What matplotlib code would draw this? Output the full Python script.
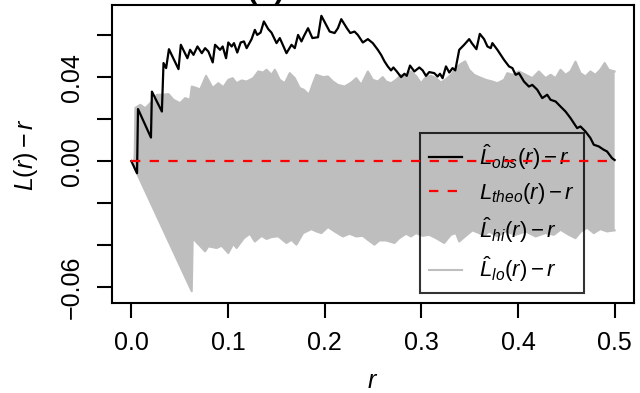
import numpy as np
import matplotlib.pyplot as plt

plt.rcParams['font.family'] = 'Liberation Sans'
plt.rcParams['mathtext.fontset'] = 'custom'
plt.rcParams['mathtext.rm'] = 'Liberation Sans'
plt.rcParams['mathtext.it'] = 'Liberation Sans:italic'
plt.rcParams['mathtext.bf'] = 'Liberation Sans:bold'

# observed L(r)-r
r_obs = [0.0, 0.0059, 0.0069, 0.0203, 0.0213, 0.0316, 0.0333, 0.036, 0.0389, 0.0488,
         0.0512, 0.058, 0.0608, 0.0643, 0.0684, 0.0729, 0.0763, 0.0797, 0.0842, 0.0866,
         0.0918, 0.0945, 0.098, 0.1003, 0.1038, 0.1062, 0.1096, 0.1131, 0.1165, 0.1193,
         0.1244, 0.1278, 0.1302, 0.1337, 0.1371, 0.1416, 0.145, 0.1502, 0.1536, 0.1605,
         0.1657, 0.1691, 0.1725, 0.176, 0.1784, 0.1828, 0.1873, 0.1931, 0.1966, 0.2052,
         0.2103, 0.2137, 0.2172, 0.223, 0.2265, 0.2309, 0.2343, 0.2395, 0.2447, 0.2498,
         0.255, 0.2584, 0.2619, 0.2653, 0.2687, 0.2711, 0.2746, 0.2791, 0.2825, 0.2849,
         0.2883, 0.2928, 0.2979, 0.3014, 0.3048, 0.3082, 0.3134, 0.3168, 0.3193, 0.322,
         0.3255, 0.3289, 0.3323, 0.3351, 0.3392, 0.3443, 0.3495, 0.3522, 0.357, 0.3605,
         0.3649, 0.3684, 0.3718, 0.3735, 0.3787, 0.3856, 0.3907, 0.3942, 0.3976, 0.401,
         0.4062, 0.4113, 0.4148, 0.4199, 0.4251, 0.4302, 0.4337, 0.4389, 0.444, 0.4492,
         0.4543, 0.4612, 0.4646, 0.4698, 0.4749, 0.4784, 0.4835, 0.4887, 0.4921, 0.4973, 0.5]
obs = [0.0, -0.0058, 0.0248, 0.0112, 0.0331, 0.0236, 0.0467, 0.0443, 0.0533, 0.0438,
       0.0554, 0.049, 0.053, 0.0506, 0.0546, 0.0514, 0.0538, 0.0522, 0.047, 0.0554,
       0.053, 0.0546, 0.049, 0.0565, 0.0546, 0.0562, 0.0517, 0.0565, 0.057, 0.0538,
       0.0581, 0.0625, 0.0601, 0.0612, 0.0665, 0.0629, 0.0612, 0.0562, 0.0586, 0.0514,
       0.0554, 0.0538, 0.0601, 0.057, 0.0594, 0.0633, 0.0586, 0.059, 0.0692, 0.0617,
       0.061, 0.0633, 0.0676, 0.0633, 0.061, 0.0617, 0.0601, 0.0565, 0.0581, 0.0562,
       0.053, 0.0506, 0.0475, 0.0451, 0.0432, 0.0446, 0.0427, 0.04, 0.0416, 0.0406,
       0.0455, 0.0427, 0.0446, 0.0432, 0.0406, 0.0424, 0.0419, 0.0403, 0.0416, 0.0395,
       0.0451, 0.0422, 0.0443, 0.0432, 0.053, 0.0554, 0.0581, 0.0562, 0.0533, 0.0606,
       0.0581, 0.0546, 0.0538, 0.0562, 0.053, 0.0482, 0.0451, 0.0443, 0.0411, 0.0419,
       0.0379, 0.0355, 0.0363, 0.034, 0.03, 0.0316, 0.0292, 0.0284, 0.026, 0.0236,
       0.0205, 0.0157, 0.0165, 0.0141, 0.011, 0.0078, 0.007, 0.0054, 0.0046, 0.0014, 0.0005]

# theoretical
r_theo = [0.0, 0.5]
theo = [0.0, 0.0]

# upper envelope
r_hi = [0.003, 0.0035, 0.0042, 0.0093, 0.0144, 0.0179, 0.0213, 0.0265, 0.0316, 0.0385,
        0.0436, 0.0505, 0.0557, 0.0608, 0.0625, 0.0677, 0.0711, 0.0773, 0.0842, 0.09,
        0.0952, 0.1003, 0.1048, 0.1089, 0.1141, 0.1193, 0.1261, 0.1313, 0.1364, 0.1399,
        0.145, 0.1485, 0.1536, 0.1588, 0.1639, 0.1691, 0.1742, 0.1784, 0.1838, 0.188,
        0.1914, 0.1983, 0.2034, 0.2086, 0.2137, 0.2206, 0.2275, 0.2327, 0.2378, 0.2447,
        0.2498, 0.255, 0.2601, 0.2636, 0.2687, 0.2739, 0.2791, 0.2842, 0.2893, 0.2945,
        0.2997, 0.3048, 0.31, 0.3152, 0.3203, 0.3255, 0.3306, 0.3358, 0.3409, 0.3454,
        0.3495, 0.3546, 0.3598, 0.3667, 0.3735, 0.3787, 0.3856, 0.389, 0.3942, 0.401,
        0.408, 0.4148, 0.4216, 0.4285, 0.4337, 0.4389, 0.444, 0.4492, 0.4543, 0.4595,
        0.4646, 0.4698, 0.4749, 0.48, 0.4852, 0.4897, 0.4938, 0.5]
hi = [0.0, 0.0035, 0.0254, 0.0268, 0.0252, 0.0268, 0.0284, 0.0316, 0.0316, 0.0319,
      0.0292, 0.0276, 0.03, 0.0292, 0.0355, 0.0348, 0.034, 0.0406, 0.0348, 0.0371,
      0.0352, 0.0387, 0.0395, 0.0371, 0.0384, 0.0379, 0.0395, 0.0427, 0.0422, 0.0435,
      0.0411, 0.0435, 0.0387, 0.0371, 0.0419, 0.0395, 0.0348, 0.034, 0.0316, 0.0371,
      0.0411, 0.04, 0.0403, 0.0379, 0.0363, 0.0355, 0.0374, 0.0395, 0.0363, 0.0427,
      0.0387, 0.0379, 0.04, 0.0379, 0.0371, 0.0387, 0.0411, 0.0406, 0.0427, 0.0406,
      0.0371, 0.04, 0.0406, 0.0395, 0.0374, 0.039, 0.0411, 0.0443, 0.0463, 0.0475,
      0.0435, 0.0411, 0.04, 0.0387, 0.0379, 0.0371, 0.0387, 0.0419, 0.0411, 0.0427,
      0.0411, 0.0395, 0.0427, 0.0395, 0.0411, 0.0395, 0.0435, 0.0411, 0.0427, 0.0474,
      0.0419, 0.0403, 0.0427, 0.0411, 0.0435, 0.0467, 0.0435, 0.0427]

# lower envelope
r_lo = [0.003, 0.0625, 0.0635, 0.0763, 0.0797, 0.0883, 0.0935, 0.1003, 0.1055, 0.1089,
        0.1165, 0.1227, 0.1278, 0.1347, 0.1399, 0.145, 0.1519, 0.1605, 0.1657, 0.1708,
        0.1777, 0.1863, 0.1914, 0.1966, 0.2034, 0.2103, 0.2189, 0.2258, 0.2327, 0.2395,
        0.2447, 0.2515, 0.2567, 0.2636, 0.2722, 0.2773, 0.2842, 0.2893, 0.2945, 0.3014,
        0.3082, 0.3152, 0.3237, 0.3306, 0.3358, 0.3392, 0.3461, 0.3529, 0.3598, 0.3649,
        0.3701, 0.3787, 0.3873, 0.3976, 0.408, 0.4182, 0.4285, 0.4371, 0.444, 0.4526,
        0.4595, 0.4646, 0.4715, 0.4784, 0.4852, 0.4921, 0.5]
lo = [-0.003, -0.062, -0.0367, -0.043, -0.0406, -0.0414, -0.0403, -0.0438, -0.0394, -0.0414,
      -0.0367, -0.0346, -0.0383, -0.0356, -0.0371, -0.0362, -0.0358, -0.039, -0.0375, -0.0398,
      -0.0343, -0.0324, -0.0335, -0.0343, -0.0314, -0.0335, -0.0359, -0.0346, -0.0359, -0.0356,
      -0.0375, -0.0398, -0.0378, -0.0378, -0.039, -0.0367, -0.0346, -0.0359, -0.0343, -0.0356,
      -0.0351, -0.0367, -0.039, -0.0351, -0.0343, -0.0383, -0.0356, -0.033, -0.0343, -0.0356,
      -0.0335, -0.0359, -0.0335, -0.0351, -0.0335, -0.0359, -0.0343, -0.0351, -0.0327, -0.0351,
      -0.0367, -0.0338, -0.0317, -0.0343, -0.0324, -0.0335, -0.033]

yticks = [-0.06, -0.04, -0.02, 0.0, 0.02, 0.04, 0.06]
ytick_labels = ['\u22120.06', '', '', '0.00', '', '0.04', '']
xticks = [0.0, 0.1, 0.2, 0.3, 0.4, 0.5]
xtick_labels = ['0.0', '0.1', '0.2', '0.3', '0.4', '0.5']

grey = '#bebebe'

fig = plt.figure(figsize=(6.4, 3.93), dpi=100)
ax = fig.add_axes([0.175, 0.229, 0.8156, 0.758])

ax.fill(np.concatenate([r_hi, r_lo[::-1]]), np.concatenate([hi, lo[::-1]]),
        color=grey, lw=0, zorder=1)
l_hi, = ax.plot(r_hi, hi, color=grey, lw=1.5, zorder=1.2)
l_lo, = ax.plot(r_lo, lo, color=grey, lw=1.5, zorder=1.2)
l_obs, = ax.plot(r_obs, obs, color='black', lw=1.6, zorder=3)
l_theo, = ax.plot(r_theo, theo, color='red', lw=1.6, dashes=(4.2, 4.2), zorder=3.5)

ax.set_xlim(-0.02, 0.52)
ax.set_ylim(-0.0676, 0.0743)
ax.set_xticks(xticks)
ax.set_xticklabels(xtick_labels)
ax.set_yticks(yticks)
ax.set_yticklabels(ytick_labels, rotation=90, va='center')
ax.tick_params(labelsize=18, length=11, width=1.5, pad=9.5)
for s in ax.spines.values():
    s.set_linewidth(1.5)

ax.set_xlabel('$r$', fontsize=18, labelpad=10)
ax.set_ylabel('$L(r) - r$', fontsize=18, labelpad=14)

leg = ax.legend([l_obs, l_theo, l_hi, l_lo],
                [r'$\hat{L}_{obs}(r) - r$', r'$L_{theo}(r) - r$',
                 r'$\hat{L}_{hi}(r) - r$', r'$\hat{L}_{lo}(r) - r$'],
                loc='upper left', bbox_to_anchor=(0.59, 0.57), borderaxespad=0,
                fontsize=16, handlelength=1.5, handletextpad=0.75,
                labelspacing=0.42, borderpad=0.4, fancybox=False)
leg.get_frame().set_facecolor('none')
leg.get_frame().set_edgecolor('black')
leg.get_frame().set_linewidth(1.5)
leg.set_zorder(2)

# title sits above the top edge, only the paren bottoms show
fig.text(266 / 640, 1.008, '(b)', ha='center', va='baseline',
         fontsize=22, fontweight='bold')

plt.savefig('out.png', dpi=100)
